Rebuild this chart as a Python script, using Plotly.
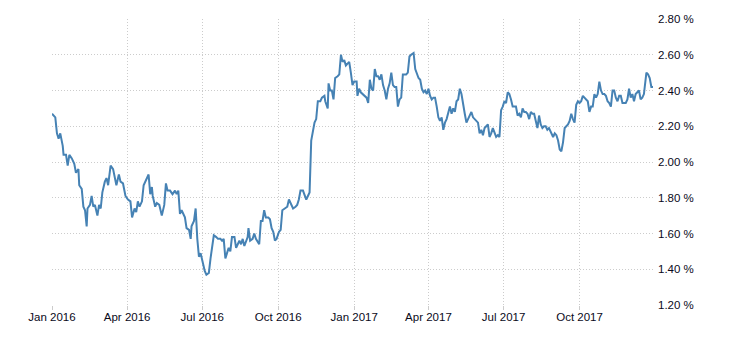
import plotly.graph_objects as go

# US 10Y-like yield
dates_2016 = [
    "2016-01-01", "2016-01-05", "2016-01-07", "2016-01-09", "2016-01-11", "2016-01-14",
    "2016-01-15", "2016-01-18", "2016-01-20", "2016-01-22", "2016-01-25", "2016-01-28",
    "2016-01-30", "2016-02-02", "2016-02-03", "2016-02-06", "2016-02-08", "2016-02-10",
    "2016-02-12", "2016-02-13", "2016-02-16", "2016-02-18", "2016-02-20", "2016-02-22",
    "2016-02-25", "2016-02-27", "2016-02-29", "2016-03-02", "2016-03-05", "2016-03-07",
    "2016-03-09", "2016-03-12", "2016-03-15", "2016-03-17", "2016-03-19", "2016-03-22",
    "2016-03-24", "2016-03-27", "2016-03-30", "2016-04-02", "2016-04-05", "2016-04-07",
    "2016-04-10", "2016-04-12", "2016-04-14", "2016-04-16", "2016-04-19", "2016-04-21",
    "2016-04-23", "2016-04-27", "2016-04-29", "2016-05-01", "2016-05-02", "2016-05-05",
    "2016-05-07", "2016-05-10", "2016-05-13", "2016-05-16", "2016-05-18", "2016-05-20",
    "2016-05-23", "2016-05-26", "2016-05-29", "2016-05-31", "2016-06-02", "2016-06-04",
    "2016-06-06", "2016-06-10", "2016-06-12", "2016-06-15", "2016-06-17", "2016-06-18",
    "2016-06-21", "2016-06-23", "2016-06-25", "2016-06-27", "2016-06-29", "2016-07-01",
    "2016-07-04", "2016-07-06", "2016-07-09", "2016-07-11", "2016-07-13", "2016-07-15",
    "2016-07-18", "2016-07-20", "2016-07-23", "2016-07-25", "2016-07-27", "2016-07-29",
    "2016-07-31", "2016-08-02", "2016-08-04", "2016-08-06", "2016-08-09", "2016-08-11",
    "2016-08-13", "2016-08-15", "2016-08-17", "2016-08-19", "2016-08-21", "2016-08-23",
    "2016-08-25", "2016-08-26", "2016-08-28", "2016-08-31", "2016-09-02", "2016-09-04",
    "2016-09-08", "2016-09-10", "2016-09-12", "2016-09-14", "2016-09-16", "2016-09-19",
    "2016-09-21", "2016-09-23", "2016-09-25", "2016-09-27", "2016-09-29", "2016-10-02",
    "2016-10-04", "2016-10-06", "2016-10-09", "2016-10-12", "2016-10-14", "2016-10-17",
    "2016-10-19", "2016-10-22", "2016-10-24", "2016-10-26", "2016-10-28", "2016-10-31",
    "2016-11-02", "2016-11-04", "2016-11-06", "2016-11-08", "2016-11-10", "2016-11-12",
    "2016-11-14", "2016-11-16", "2016-11-18", "2016-11-21", "2016-11-23", "2016-11-26",
    "2016-11-27", "2016-11-30", "2016-12-01", "2016-12-03", "2016-12-05", "2016-12-07",
    "2016-12-09", "2016-12-12", "2016-12-14", "2016-12-16", "2016-12-18", "2016-12-20",
    "2016-12-22", "2016-12-24", "2016-12-26", "2016-12-28", "2016-12-30", "2017-01-01",
    "2017-01-04", "2017-01-05", "2017-01-07", "2017-01-09", "2017-01-11",
]
values_2016 = [
    2.27, 2.25, 2.16, 2.13, 2.16, 2.09,
    2.04, 2.04, 1.98, 2.04, 2.02, 1.99,
    1.94, 1.96, 1.87, 1.85, 1.75, 1.73,
    1.64, 1.74, 1.76, 1.81, 1.75, 1.76,
    1.70, 1.76, 1.74, 1.83, 1.89, 1.91,
    1.87, 1.98, 1.96, 1.92, 1.87, 1.93,
    1.89, 1.88, 1.81, 1.79, 1.78, 1.69,
    1.74, 1.72, 1.78, 1.75, 1.78, 1.87,
    1.89, 1.93, 1.82, 1.86, 1.81, 1.75,
    1.77, 1.76, 1.70, 1.76, 1.88, 1.84,
    1.84, 1.82, 1.84, 1.82, 1.84, 1.71,
    1.73, 1.69, 1.63, 1.62, 1.57, 1.64,
    1.67, 1.74, 1.57, 1.47, 1.49, 1.45,
    1.39, 1.37, 1.38, 1.46, 1.52, 1.59,
    1.58, 1.57, 1.57, 1.56, 1.57, 1.46,
    1.49, 1.52, 1.50, 1.58, 1.58, 1.52,
    1.54, 1.56, 1.54, 1.57, 1.53, 1.56,
    1.58, 1.63, 1.56, 1.57, 1.60, 1.57,
    1.54, 1.67, 1.67, 1.73, 1.69, 1.69,
    1.68, 1.63, 1.61, 1.56, 1.57, 1.61,
    1.62, 1.73, 1.74, 1.75, 1.79, 1.76,
    1.74, 1.75, 1.76, 1.79, 1.84, 1.84,
    1.81, 1.79, 1.81, 1.83, 2.12, 2.17,
    2.22, 2.24, 2.34, 2.34, 2.36, 2.37,
    2.34, 2.30, 2.44, 2.40, 2.40, 2.35,
    2.47, 2.48, 2.49, 2.60, 2.56, 2.57,
    2.54, 2.55, 2.56, 2.50, 2.43, 2.45,
    2.45, 2.37, 2.41, 2.39, 2.38,
]

dates_2017 = [
    "2017-01-14", "2017-01-16", "2017-01-18", "2017-01-20", "2017-01-22", "2017-01-24",
    "2017-01-26", "2017-01-28", "2017-01-30", "2017-02-01", "2017-02-03", "2017-02-05",
    "2017-02-07", "2017-02-09", "2017-02-11", "2017-02-13", "2017-02-15", "2017-02-17",
    "2017-02-19", "2017-02-21", "2017-02-23", "2017-02-25", "2017-02-27", "2017-03-01",
    "2017-03-03", "2017-03-05", "2017-03-07", "2017-03-09", "2017-03-11", "2017-03-14",
    "2017-03-16", "2017-03-18", "2017-03-20", "2017-03-22", "2017-03-24", "2017-03-26",
    "2017-03-28", "2017-03-30", "2017-04-01", "2017-04-03", "2017-04-05", "2017-04-07",
    "2017-04-09", "2017-04-11", "2017-04-13", "2017-04-15", "2017-04-17", "2017-04-19",
    "2017-04-21", "2017-04-23", "2017-04-25", "2017-04-27", "2017-04-29", "2017-05-01",
    "2017-05-03", "2017-05-05", "2017-05-07", "2017-05-09", "2017-05-11", "2017-05-13",
    "2017-05-15", "2017-05-17", "2017-05-19", "2017-05-21", "2017-05-23", "2017-05-25",
    "2017-05-27", "2017-05-29", "2017-05-31", "2017-06-02", "2017-06-04", "2017-06-06",
    "2017-06-08", "2017-06-10", "2017-06-12", "2017-06-14", "2017-06-16", "2017-06-18",
    "2017-06-20", "2017-06-22", "2017-06-24", "2017-06-26", "2017-06-28", "2017-06-30",
    "2017-07-02", "2017-07-04", "2017-07-06", "2017-07-08", "2017-07-10", "2017-07-12",
    "2017-07-14", "2017-07-16", "2017-07-18", "2017-07-20", "2017-07-22", "2017-07-24",
    "2017-07-26", "2017-07-28", "2017-07-30", "2017-08-01", "2017-08-03", "2017-08-05",
    "2017-08-07", "2017-08-09", "2017-08-11", "2017-08-13", "2017-08-15", "2017-08-17",
    "2017-08-19", "2017-08-21", "2017-08-23", "2017-08-25", "2017-08-27", "2017-08-30",
    "2017-09-01", "2017-09-03", "2017-09-05", "2017-09-07", "2017-09-09", "2017-09-11",
    "2017-09-13", "2017-09-15", "2017-09-17", "2017-09-19", "2017-09-21", "2017-09-23",
    "2017-09-25", "2017-09-27", "2017-09-29", "2017-10-01", "2017-10-03", "2017-10-05",
    "2017-10-07", "2017-10-09", "2017-10-11", "2017-10-13", "2017-10-15", "2017-10-17",
    "2017-10-19", "2017-10-21", "2017-10-23", "2017-10-25", "2017-10-27", "2017-10-29",
    "2017-10-31", "2017-11-02", "2017-11-04", "2017-11-06", "2017-11-08", "2017-11-10",
    "2017-11-12", "2017-11-14", "2017-11-16", "2017-11-18", "2017-11-20", "2017-11-22",
    "2017-11-24", "2017-11-26", "2017-11-28", "2017-11-30", "2017-12-02", "2017-12-04",
    "2017-12-06", "2017-12-08", "2017-12-10", "2017-12-12", "2017-12-14", "2017-12-16",
    "2017-12-18", "2017-12-21", "2017-12-23", "2017-12-25", "2017-12-27", "2017-12-29",
]
values_2017 = [
    2.37, 2.36, 2.33, 2.46, 2.41, 2.40,
    2.52, 2.48, 2.48, 2.46, 2.49, 2.43,
    2.40, 2.35, 2.41, 2.44, 2.50, 2.43,
    2.42, 2.42, 2.31, 2.35, 2.36, 2.49,
    2.49, 2.49, 2.50, 2.59, 2.60, 2.61,
    2.52, 2.50, 2.47, 2.46, 2.41, 2.39,
    2.40, 2.38, 2.41, 2.37, 2.35, 2.36,
    2.36, 2.31, 2.25, 2.23, 2.25, 2.18,
    2.22, 2.24, 2.28, 2.31, 2.27, 2.30,
    2.28, 2.34, 2.35, 2.41, 2.38, 2.31,
    2.27, 2.22, 2.24, 2.26, 2.28, 2.25,
    2.24, 2.23, 2.22, 2.16, 2.18, 2.15,
    2.19, 2.20, 2.21, 2.14, 2.16, 2.19,
    2.17, 2.14, 2.15, 2.14, 2.29, 2.31,
    2.34, 2.33, 2.39, 2.38, 2.35, 2.31,
    2.31, 2.31, 2.26, 2.27, 2.25, 2.30,
    2.28, 2.28, 2.27, 2.24, 2.28, 2.27,
    2.27, 2.23, 2.19, 2.26, 2.21, 2.19,
    2.20, 2.20, 2.18, 2.19, 2.17, 2.14,
    2.16, 2.15, 2.12, 2.07, 2.06, 2.11,
    2.19, 2.20, 2.21, 2.23, 2.27, 2.24,
    2.22, 2.32, 2.34, 2.33, 2.34, 2.37,
    2.36, 2.35, 2.34, 2.28, 2.31, 2.31,
    2.38, 2.36, 2.38, 2.45, 2.40, 2.38,
    2.38, 2.37, 2.34, 2.33, 2.31, 2.40,
    2.40, 2.36, 2.34, 2.37, 2.37, 2.33,
    2.33, 2.33, 2.35, 2.41, 2.36, 2.38,
    2.34, 2.38, 2.39, 2.40, 2.35, 2.36,
    2.38, 2.50, 2.49, 2.47, 2.42, 2.42,
]

dates = dates_2016 + dates_2017
values = values_2016 + values_2017

x_range = ["2016-01-01", "2017-12-29"]
y_range = [1.2, 2.8]
y_ticks = [1.2, 1.4, 1.6, 1.8, 2.0, 2.2, 2.4, 2.6, 2.8]
y_tick_labels = ["1.20 %", "1.40 %", "1.60 %", "1.80 %", "2.00 %",
                 "2.20 %", "2.40 %", "2.60 %", "2.80 %"]

FONT = "Tahoma, 'Liberation Sans', Arial, sans-serif"

fig = go.Figure()
fig.add_trace(go.Scatter(
    x=dates, y=values, mode="lines",
    line=dict(color="#4682b4", width=2),
    hoverinfo="skip", showlegend=False,
))

fig.update_layout(
    width=730, height=340,
    margin=dict(l=52, r=77, t=19, b=35, autoexpand=False),
    paper_bgcolor="white", plot_bgcolor="white",
    font=dict(family=FONT, size=11.5, color="#0a0a1a"),
    xaxis=dict(
        range=x_range, type="date", automargin=False,
        tick0="2016-01-01", dtick="M3", tickformat="%b %Y",
        showgrid=True, gridcolor="#cccccc", griddash="1px,2px", gridwidth=1,
        ticks="outside", ticklen=4, tickcolor="#cccccc",
        ticklabelstandoff=-3,
        showline=False, zeroline=False,
    ),
    yaxis=dict(
        range=y_range, side="right", automargin=False,
        tickmode="array", tickvals=y_ticks, ticktext=y_tick_labels,
        ticklabelposition="outside", ticklabelstandoff=4,
        showgrid=True, gridcolor="#cccccc", griddash="1px,2px", gridwidth=1,
        ticks="", showline=False, zeroline=False,
    ),
)

fig.write_html("out.html")
